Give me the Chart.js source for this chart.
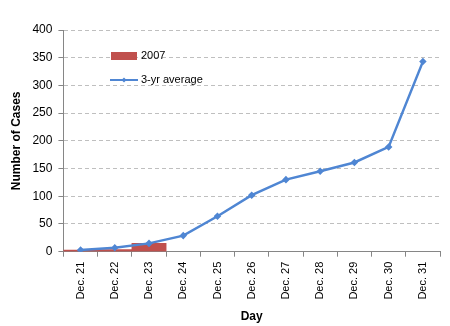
<!DOCTYPE html>
<html>
<head>
<meta charset="utf-8">
<script src="https://cdn.jsdelivr.net/npm/chart.js@4/dist/chart.umd.min.js"></script>
<style>
  html, body { margin: 0; padding: 0; background: #fff; }
  #wrap { width: 450px; height: 326px; }
</style>
</head>
<body>
<div id="wrap"><canvas id="casesChart" width="450" height="326"></canvas></div>
<script>
// Daily case counts, last week and a half of December
const days = ["Dec. 21", "Dec. 22", "Dec. 23", "Dec. 24", "Dec. 25", "Dec. 26",
              "Dec. 27", "Dec. 28", "Dec. 29", "Dec. 30", "Dec. 31"];
const cases2007 = [3, 4, 15, null, null, null, null, null, null, null, null];
const threeYrAvg = [3, 7, 15, 29, 64, 102, 130, 145, 161, 189, 343];
const yTicks = [0, 50, 100, 150, 200, 250, 300, 350, 400];

const FONT = "'Liberation Sans', Arial, sans-serif";
const RED = "#C0504D";
const BLUE = "#4F86D3";

// legend sits inside the plot, top left
const insideLegend = {
  id: "insideLegend",
  afterDraw(chart) {
    const ctx = chart.ctx;
    const ds = chart.data.datasets;
    ctx.save();
    ctx.font = "11px " + FONT;
    ctx.textBaseline = "middle";

    ctx.fillStyle = ds[0].backgroundColor;
    ctx.fillRect(111, 52, 26, 8);
    ctx.fillStyle = "#000";
    ctx.fillText(ds[0].label, 141, 56);

    ctx.strokeStyle = ds[1].borderColor;
    ctx.lineWidth = 2;
    ctx.beginPath();
    ctx.moveTo(110, 80);
    ctx.lineTo(138, 80);
    ctx.stroke();
    ctx.fillStyle = ds[1].borderColor;
    ctx.beginPath();
    ctx.moveTo(124, 77.5);
    ctx.lineTo(126.5, 80);
    ctx.lineTo(124, 82.5);
    ctx.lineTo(121.5, 80);
    ctx.fill();
    ctx.fillStyle = "#000";
    ctx.fillText(ds[1].label, 141, 80);
    ctx.restore();
  }
};

new Chart(document.getElementById("casesChart"), {
  type: "bar",
  data: {
    labels: days,
    datasets: [
      {
        type: "bar",
        label: "2007",
        data: cases2007,
        backgroundColor: RED,
        categoryPercentage: 1.0,
        barPercentage: 1.0,
        order: 2
      },
      {
        type: "line",
        label: "3-yr average",
        data: threeYrAvg,
        borderColor: BLUE,
        backgroundColor: BLUE,
        borderWidth: 2.5,
        pointRadius: 2,
        pointStyle: "rectRot",
        tension: 0,
        order: 1
      }
    ]
  },
  options: {
    responsive: false,
    animation: false,
    layout: { padding: { left: 9, right: 10, top: 30, bottom: 2 } },
    plugins: {
      legend: { display: false },
      tooltip: { enabled: false }
    },
    scales: {
      x: {
        grid: {
          display: true,
          offset: true,
          drawOnChartArea: false,
          drawTicks: true,
          tickLength: 5,
          tickColor: "#868686"
        },
        border: { color: "#868686", width: 1 },
        ticks: {
          color: "#000",
          font: { family: FONT, size: 11 },
          minRotation: 90,
          maxRotation: 90,
          autoSkip: false,
          padding: 5
        },
        title: {
          display: true,
          text: "Day",
          color: "#000",
          font: { family: FONT, size: 12, weight: "bold" },
          padding: { top: 5, bottom: 0 }
        }
      },
      y: {
        min: 0,
        max: 400,
        afterBuildTicks(axis) {
          axis.ticks = yTicks.map(v => ({ value: v }));
        },
        grid: {
          color: "#BFBFBF",
          tickColor: "#868686",
          tickLength: 5,
          tickBorderDash: []
        },
        border: { color: "#868686", width: 1, dash: [4, 3] },
        ticks: {
          color: "#000",
          font: { family: FONT, size: 12 },
          padding: 6
        },
        title: {
          display: true,
          text: "Number of Cases",
          color: "#000",
          font: { family: FONT, size: 12, weight: "bold" },
          padding: { top: 0, bottom: 3 }
        }
      }
    }
  },
  plugins: [insideLegend]
});
</script>
</body>
</html>
